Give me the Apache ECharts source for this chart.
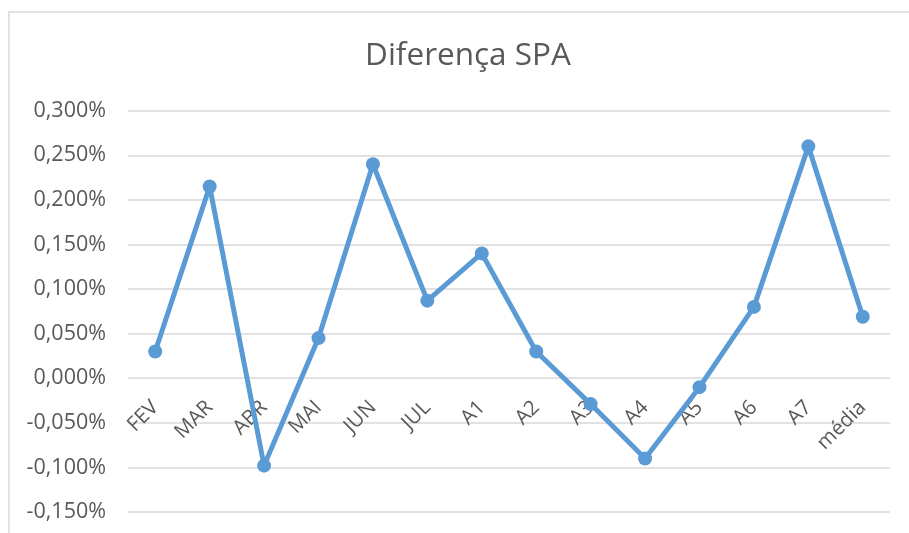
<!DOCTYPE html>
<html>
<head>
<meta charset="utf-8">
<script src="https://cdn.jsdelivr.net/npm/echarts@6/dist/echarts.min.js"></script>
<style>
html,body{margin:0;padding:0;background:#fff;}
#chart{width:909px;height:533px;}
</style>
</head>
<body>
<div id="chart"></div>
<script>
const categories = ['FEV','MAR','ABR','MAI','JUN','JUL','A1','A2','A3','A4','A5','A6','A7','média'];
const diferencaSPA = [0.030, 0.215, -0.098, 0.045, 0.240, 0.087, 0.140, 0.030, -0.029, -0.090, -0.010, 0.080, 0.260, 0.069];
const yMin = -0.15, yMax = 0.30, yStep = 0.05;
const titleText = 'Diferença SPA';

const W = 909, H = 533;
const gridTop = 110.7, gridBottom = 21;
const gridHeight = H - gridTop - gridBottom;
const zeroOffset = -gridHeight * (0 - yMin) / (yMax - yMin);

const chart = echarts.init(document.getElementById('chart'), null, {renderer:'canvas'});
const font = '"Open Sans", "Liberation Sans", sans-serif';
chart.setOption({
  animation: false,
  backgroundColor: '#ffffff',
  title: {
    text: titleText,
    left: 463,
    textAlign: 'center',
    top: 35,
    textStyle: {fontFamily: font, fontSize: 31.5, fontWeight: 'normal', color: '#595959'}
  },
  graphic: [{
    type: 'rect',
    shape: {x: 9, y: 12, width: 1200, height: 800},
    style: {fill: 'none', stroke: '#d9d9d9', lineWidth: 1.5},
    silent: true
  }],
  grid: {left: 128, right: 19, top: gridTop, bottom: gridBottom, containLabel: false, outerBoundsMode: 'none'},
  xAxis: {
    type: 'category',
    data: categories,
    boundaryGap: true,
    position: 'bottom',
    offset: zeroOffset,
    axisLine: {show: false, onZero: false},
    axisTick: {show: false},
    axisLabel: {interval: 0, rotate: 45, margin: 26, fontFamily: font, fontSize: 20.5, color: '#595959'}
  },
  yAxis: {
    type: 'value',
    min: yMin, max: yMax, interval: yStep,
    axisLine: {show: false},
    axisTick: {show: false},
    splitLine: {lineStyle: {color: '#d9d9d9', width: 1.5}},
    axisLabel: {
      margin: 22, fontFamily: font, fontSize: 21.5, color: '#595959',
      formatter: v => v.toFixed(3).replace('.', ',') + '%'
    }
  },
  series: [{
    type: 'line',
    data: diferencaSPA,
    symbol: 'circle',
    symbolSize: 14,
    lineStyle: {color: '#5b9bd5', width: 5},
    itemStyle: {color: '#5b9bd5'},
    z: 3
  }]
});
</script>
</body>
</html>
